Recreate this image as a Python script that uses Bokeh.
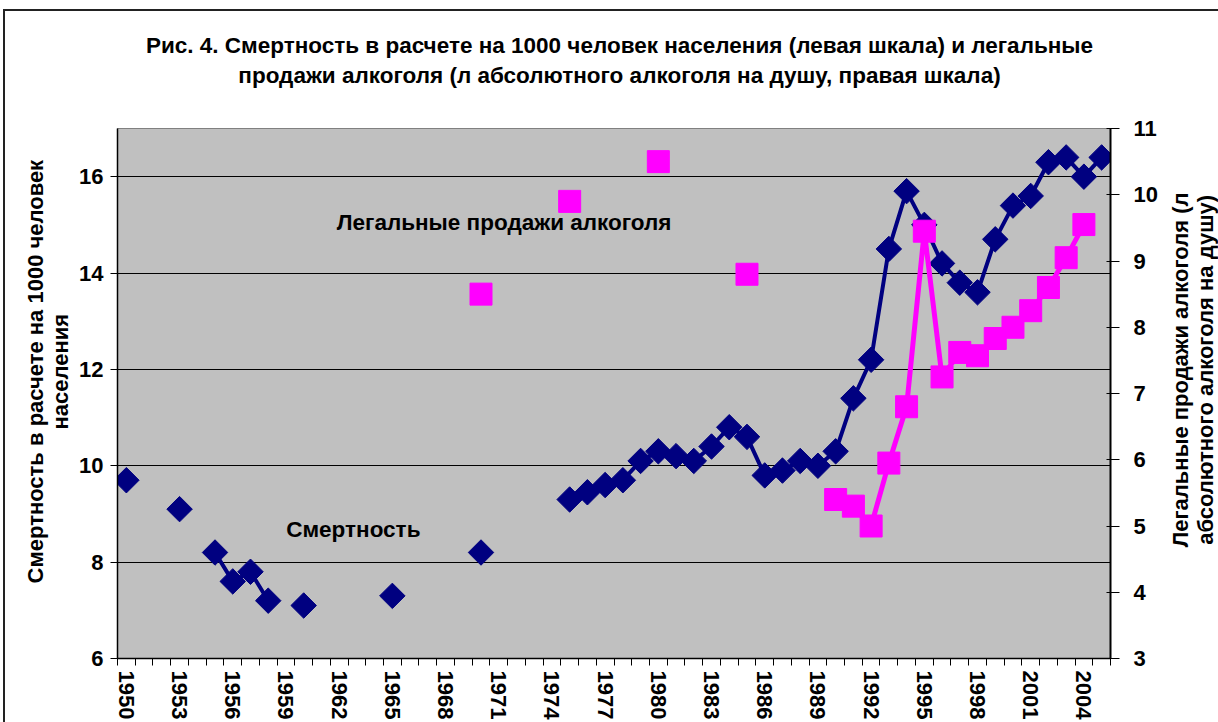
import math
from bokeh.plotting import figure
from bokeh.models import Range1d, LinearAxis, FixedTicker, Label
from bokeh.layouts import column, row
from bokeh.embed import file_html
from bokeh.resources import INLINE

FONT = "Liberation Sans"

# ---- data ----
mort_years = [1950, 1953, 1955, 1956, 1957, 1958, 1960, 1965, 1970,
              1975, 1976, 1977, 1978, 1979, 1980, 1981, 1982, 1983, 1984,
              1985, 1986, 1987, 1988, 1989, 1990, 1991, 1992, 1993, 1994,
              1995, 1996, 1997, 1998, 1999, 2000, 2001, 2002, 2003, 2004, 2005]
mort_values = [9.7, 9.1, 8.2, 7.6, 7.8, 7.2, 7.1, 7.3, 8.2,
               9.3, 9.45, 9.6, 9.7, 10.1, 10.3, 10.2, 10.1, 10.4, 10.8,
               10.6, 9.8, 9.9, 10.1, 10.0, 10.3, 11.4, 12.2, 14.5, 15.7,
               15.0, 14.2, 13.8, 13.6, 14.7, 15.4, 15.6, 16.3, 16.4, 16.0, 16.4]

alc_years = [1970, 1975, 1980, 1985, 1990, 1991, 1992, 1993, 1994, 1995,
             1996, 1997, 1998, 1999, 2000, 2001, 2002, 2003, 2004]
alc_values = [8.5, 9.9, 10.5, 8.8, 5.4, 5.3, 5.0, 5.95, 6.8, 9.45,
              7.25, 7.62, 7.57, 7.83, 8.0, 8.25, 8.6, 9.05, 9.55]

all_years = list(range(1950, 2006))
x_tick_years = list(range(1950, 2005, 3))
left_ticks = [6, 8, 10, 12, 14, 16]
right_ticks = [3, 4, 5, 6, 7, 8, 9, 10, 11]

title_lines = ["Рис. 4. Смертность в расчете на 1000 человек населения (левая шкала) и легальные",
               "продажи алкоголя (л абсолютного алкоголя на душу, правая шкала)"]
left_label_lines = ["Смертность в расчете на 1000 человек", "населения"]
right_label_lines = ["Легальные продажи алкоголя (л", "абсолютного алкоголя на душу)"]


def full_series(years, values):
    d = dict(zip(years, values))
    return [d.get(y, float("nan")) for y in all_years]


mort_full = full_series(mort_years, mort_values)
alc_full = full_series(alc_years, alc_values)


def text_panel(width, height, x0, x1, y0, y1):
    """A blank figure whose frame fills the canvas; coordinates = page pixels."""
    f = figure(width=width, height=height, x_range=Range1d(x0, x1),
               y_range=Range1d(y1, y0), output_backend="svg", toolbar_location=None,
               x_axis_type=None, y_axis_type=None, min_border=0,
               min_border_left=0, min_border_right=0, min_border_top=0,
               min_border_bottom=0, background_fill_color="white",
               border_fill_color="white", outline_line_color=None)
    f.xgrid.visible = False
    f.ygrid.visible = False
    return f


def add_text(fig, x, y, text, angle=0.0, size="22.5px", **kw):
    fig.add_layout(Label(x=x, y=y, text=text, angle=angle,
                         text_align="center", text_baseline="middle", text_font=FONT,
                         text_font_size=size, text_font_style="bold",
                         text_color="black", **kw))


# page geometry (pixels): canvas from x=5, y=11
L, R, TOP = 74, 1163, 116

# ---- main chart ----
p = figure(width=R - L, height=722 - TOP,
           x_range=Range1d(1949.5, 2005.5), y_range=Range1d(6, 17),
           output_backend="svg", toolbar_location=None, title=None,
           min_border_left=117 - L, min_border_right=R - 1110,
           min_border_top=128 - TOP, min_border_bottom=64,
           background_fill_color="#C0C0C0", border_fill_color="white",
           outline_line_color="#808080")
p.extra_y_ranges = {"alc": Range1d(3, 11)}

p.xgrid.visible = False
p.ygrid.ticker = FixedTicker(ticks=left_ticks)
p.ygrid.grid_line_color = "black"
p.ygrid.grid_line_width = 1

xa = p.xaxis[0]
xa.ticker = FixedTicker(ticks=x_tick_years,
                        minor_ticks=[y - 0.5 for y in range(1950, 2007)])
xa.major_tick_in = 0
xa.major_tick_out = 0
xa.minor_tick_in = 0
xa.minor_tick_out = 7
xa.minor_tick_line_color = "black"
xa.axis_line_color = "black"
xa.axis_line_width = 1.5
xa.major_label_orientation = -math.pi / 2
xa.major_label_standoff = 5
xa.major_label_text_font = FONT
xa.major_label_text_font_size = "22px"
xa.major_label_text_font_style = "bold"
xa.major_label_text_color = "black"

ya = p.yaxis[0]
ya.ticker = FixedTicker(ticks=left_ticks)
ya.major_tick_in = 0
ya.major_tick_out = 7
ya.minor_tick_in = 0
ya.minor_tick_out = 0
ya.major_tick_line_color = "black"
ya.axis_line_color = "black"
ya.axis_line_width = 1.5
ya.major_label_standoff = 7
ya.major_label_text_font = FONT
ya.major_label_text_font_size = "22px"
ya.major_label_text_font_style = "bold"
ya.major_label_text_color = "black"

ra = LinearAxis(y_range_name="alc", ticker=FixedTicker(ticks=right_ticks))
ra.major_tick_in = 4
ra.major_tick_out = 9
ra.minor_tick_in = 0
ra.minor_tick_out = 0
ra.major_tick_line_color = "black"
ra.axis_line_color = "black"
ra.axis_line_width = 2
ra.major_label_standoff = 14
ra.major_label_text_font = FONT
ra.major_label_text_font_size = "22px"
ra.major_label_text_font_style = "bold"
ra.major_label_text_color = "black"
p.add_layout(ra, "right")

# mortality series (navy, diamonds)
p.line(all_years, mort_full, line_color="#000080", line_width=4)
p.scatter(mort_years, mort_values, marker="square", angle=math.pi / 4, size=18,
          fill_color="#000080", line_color="#000080")

# alcohol series (magenta, squares)
p.line(all_years, alc_full, line_color="#FF00FF", line_width=5, y_range_name="alc")
p.scatter(alc_years, alc_values, marker="square", size=22,
          fill_color="#FF00FF", line_color="#FF00FF", y_range_name="alc")

add_text(p, 1971.3, 15.05, "Легальные продажи алкоголя")
add_text(p, 1962.8, 8.68, "Смертность")

# ---- title panel ----
top = text_panel(1213, TOP - 11, 5, 1218, 11, TOP)
add_text(top, 619, 45, title_lines[0])
add_text(top, 619, 75, title_lines[1])

# ---- left axis title panel ----
left = text_panel(L - 5, 722 - TOP, 5, L, TOP, 722)
add_text(left, 35, 394, left_label_lines[0], angle=math.pi / 2, size="22px")
add_text(left, 60, 394, left_label_lines[1], angle=math.pi / 2, size="22px")

# ---- right axis title panel ----
right = text_panel(1218 - R, 722 - TOP, R, 1218, TOP, 722)
add_text(right, 1180, 392, right_label_lines[0], angle=math.pi / 2, size="22px")
add_text(right, 1205, 392, right_label_lines[1], angle=math.pi / 2, size="22px")

layout = column(top, row(left, p, right, spacing=0), spacing=0)
layout.styles = {"border-left": "2px solid #222222", "border-top": "2px solid #222222",
                 "margin-left": "3px", "margin-top": "9px"}

open("out.html", "w").write(file_html(layout, INLINE))
